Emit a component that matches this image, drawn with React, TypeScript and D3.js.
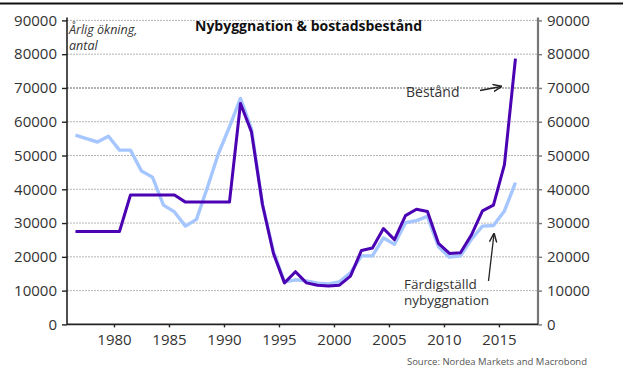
import { useEffect, useRef } from "react";
import * as d3 from "d3";

// one point per year, drawn mid-year like the original category axis
const years = [
    1976, 1977, 1978, 1979, 1980, 1981, 1982, 1983, 1984, 1985,
    1986, 1987, 1988, 1989, 1990, 1991, 1992, 1993, 1994, 1995,
    1996, 1997, 1998, 1999, 2000, 2001, 2002, 2003, 2004, 2005,
    2006, 2007, 2008, 2009, 2010, 2011, 2012, 2013, 2014, 2015, 2016,
];

const bestand = [
    27500, 27500, 27500, 27500, 27500, 38300, 38300, 38300, 38300, 38300,
    36200, 36200, 36200, 36200, 36200, 65400, 57000, 35500, 21000, 12300,
    15600, 12300, 11600, 11400, 11600, 14300, 21900, 22600, 28400, 25100,
    32200, 34100, 33400, 24000, 21000, 21200, 26500, 33600, 35300, 47300, 78700,
];

const fardigstalld = [
    56000, 55000, 54000, 55700, 51600, 51600, 45400, 43600, 35300, 33300,
    29100, 31100, 40600, 50600, 58500, 66900, 57800, 35500, 21500, 12600,
    13200, 12900, 12200, 12000, 12600, 15300, 20300, 20300, 25600, 23700,
    30100, 30700, 32000, 23000, 19900, 20300, 25200, 29100, 29300, 33600, 42000,
];

const yTicks = [0, 10000, 20000, 30000, 40000, 50000, 60000, 70000, 80000, 90000];
const xTicks = [1980, 1985, 1990, 1995, 2000, 2005, 2010, 2015];

const FONT = "'Open Sans', 'DejaVu Sans', sans-serif";

export default function App() {
    const ref = useRef(null);

    useEffect(() => {
        const svg = d3.select(ref.current);
        svg.selectAll("*").remove();

        const left = 67, right = 538, top = 20.4, bottom = 324.4;

        const x = d3.scaleLinear().domain([1975.73, 2018.55]).range([left, right]);
        const y = d3.scaleLinear().domain([0, 90000]).range([bottom, top]);

        const defs = svg.append("defs");
        defs.append("marker")
            .attr("id", "arrow")
            .attr("viewBox", "0 0 10 10")
            .attr("refX", 9)
            .attr("refY", 5)
            .attr("markerWidth", 7)
            .attr("markerHeight", 7)
            .attr("orient", "auto")
            .append("path")
            .attr("d", "M0,1 L10,5 L0,9")
            .attr("fill", "none")
            .attr("stroke", "#222")
            .attr("stroke-width", 1.6);

        // top rule
        svg.append("line")
            .attr("x1", 0).attr("x2", 623)
            .attr("y1", 3.5).attr("y2", 3.5)
            .attr("stroke", "#111")
            .attr("stroke-width", 2);

        // gridlines
        svg.append("g")
            .selectAll("line")
            .data(yTicks.filter(d => d > 0))
            .enter()
            .append("line")
            .attr("x1", left).attr("x2", right)
            .attr("y1", d => y(d)).attr("y2", d => y(d))
            .attr("stroke", d => (d === 70000 ? "#999" : "#b5b5b5"))
            .attr("stroke-width", d => (d === 70000 ? 1.6 : 1))
            .attr("stroke-dasharray", "2,1");

        const yAxisL = d3.axisLeft(y).tickValues(yTicks).tickSize(5).tickPadding(5).tickFormat(d3.format("d"));
        const yAxisR = d3.axisRight(y).tickValues(yTicks).tickSize(4).tickPadding(5).tickFormat(d3.format("d"));
        const xAxis = d3.axisBottom(x).tickValues(xTicks).tickSize(3).tickPadding(7).tickFormat(d3.format("d"));

        const gl = svg.append("g").attr("transform", `translate(${left},0)`).call(yAxisL);
        gl.select(".domain").attr("stroke", "#222").attr("stroke-width", 1.6).attr("d", `M0,${top - 3}V${bottom}`);
        gl.selectAll(".tick line").attr("stroke", "#222").attr("stroke-width", 1.4);

        const gr = svg.append("g").attr("transform", `translate(${right},0)`).call(yAxisR);
        gr.select(".domain").attr("stroke", "#777").attr("stroke-width", 2.2).attr("d", `M0,${top - 3}V${bottom}`);
        gr.selectAll(".tick line").attr("stroke", "#777").attr("stroke-width", 1.4);

        const gx = svg.append("g").attr("transform", `translate(0,${bottom})`).call(xAxis);
        gx.select(".domain").attr("stroke", "#222").attr("stroke-width", 1.6).attr("d", `M${left},0H${right}`);
        gx.selectAll(".tick line").attr("stroke", "#222").attr("stroke-width", 1.4);

        svg.selectAll(".tick text")
            .attr("fill", "#333")
            .style("font-family", FONT)
            .style("font-size", "15px");

        const line = d3.line<number>()
            .x((d, i) => x(years[i] + 0.5))
            .y(d => y(d));

        svg.append("path")
            .datum(fardigstalld)
            .attr("d", line)
            .attr("fill", "none")
            .attr("stroke", "#a6c6ff")
            .attr("stroke-width", 3.4)
            .attr("stroke-linejoin", "round");

        svg.append("path")
            .datum(bestand)
            .attr("d", line)
            .attr("fill", "none")
            .attr("stroke", "#4b02b2")
            .attr("stroke-width", 3)
            .attr("stroke-linejoin", "round");

        // title and notes
        svg.append("text")
            .attr("x", 195).attr("y", 31)
            .style("font-family", FONT)
            .style("font-size", "14px")
            .style("font-weight", 700)
            .attr("fill", "#111")
            .text("Nybyggnation & bostadsbestånd");

        const unit = svg.append("text")
            .style("font-family", FONT)
            .style("font-size", "12.5px")
            .style("font-style", "italic")
            .attr("fill", "#333");
        unit.append("tspan").attr("x", 69).attr("y", 34).text("Årlig ökning,");
        unit.append("tspan").attr("x", 69).attr("y", 50).text("antal");

        svg.append("text")
            .attr("x", 406).attr("y", 97)
            .style("font-family", FONT)
            .style("font-size", "14px")
            .attr("fill", "#333")
            .text("Bestånd");

        svg.append("line")
            .attr("x1", 480).attr("y1", 90.5)
            .attr("x2", x(2015.2)).attr("y2", 86.5)
            .attr("stroke", "#222")
            .attr("stroke-width", 1.3)
            .attr("marker-end", "url(#arrow)");

        const fn = svg.append("text")
            .style("font-family", FONT)
            .style("font-size", "13.5px")
            .attr("fill", "#333");
        fn.append("tspan").attr("x", 404).attr("y", 289).text("Färdigställd");
        fn.append("tspan").attr("x", 404).attr("y", 305).text("nybyggnation");

        svg.append("line")
            .attr("x1", 488.5).attr("y1", 281)
            .attr("x2", 494).attr("y2", 234)
            .attr("stroke", "#222")
            .attr("stroke-width", 1.3)
            .attr("marker-end", "url(#arrow)");

        svg.append("text")
            .attr("x", 587).attr("y", 365)
            .attr("text-anchor", "end")
            .style("font-family", FONT)
            .style("font-size", "9.5px")
            .attr("fill", "#555")
            .text("Source: Nordea Markets and Macrobond");
    }, []);

    return (
        <svg
            ref={ref}
            width={631}
            height={385}
            style={{ position: "absolute", left: 0, top: 0, background: "#fff" }}
        ></svg>
    );
}
